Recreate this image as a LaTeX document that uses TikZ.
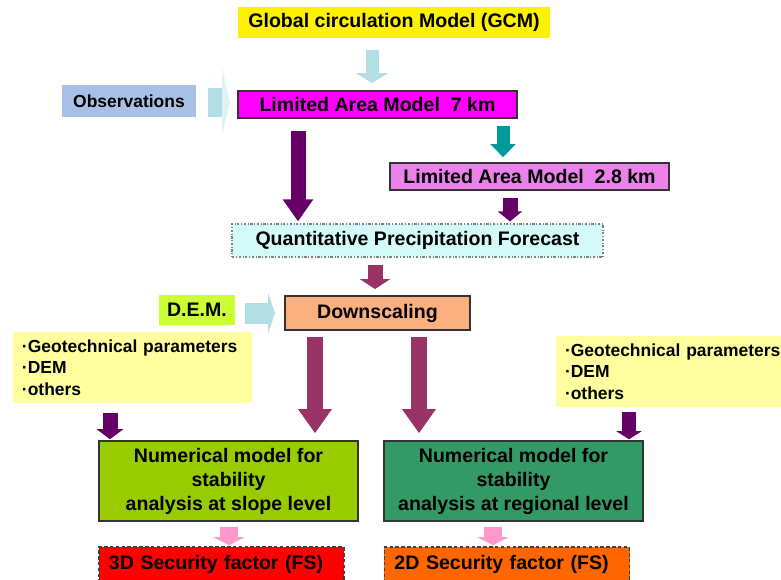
\documentclass[tikz,border=0pt]{standalone}
\usepackage{fontspec}
\setmainfont{Liberation Sans}
\usetikzlibrary{arrows.meta}

\definecolor{obsblue}{RGB}{168,192,230}
\definecolor{lightcyan}{RGB}{178,222,228}
\definecolor{lammagenta}{RGB}{255,0,255}
\definecolor{violetbox}{RGB}{235,130,235}
\definecolor{qpfcyan}{RGB}{212,250,250}
\definecolor{demlime}{RGB}{204,255,51}
\definecolor{salmon}{RGB}{252,176,128}
\definecolor{noteyellow}{RGB}{255,255,160}
\definecolor{slopegreen}{RGB}{153,204,0}
\definecolor{regiongreen}{RGB}{51,153,102}
\definecolor{pinkarrow}{RGB}{255,153,204}
\definecolor{darkpurple}{RGB}{102,0,102}
\definecolor{maroon}{RGB}{153,51,102}
\definecolor{tealarrow}{RGB}{0,153,153}
\definecolor{fsorange}{RGB}{255,102,0}

\begin{document}
\begin{tikzpicture}[x=0.03cm, y=-0.03cm, font=\bfseries\fontsize{16.7}{20.5}\selectfont,
  box/.style={inner sep=0pt, align=center, text=black},
  frame/.style={box, draw=black!80, line width=1.6pt},
  note/.style={box, fill=noteyellow, align=left, inner xsep=0.27cm, text width=6.63cm, minimum height=2.13cm, font=\bfseries\fontsize{14.9}{18.4}\selectfont},
  fs/.style={box, draw=black!75, line width=1.4pt, dash pattern=on 3pt off 2pt, align=left, inner xsep=0.3cm, text width=6.75cm, minimum height=1.02cm},
  fat/.style n args={4}{draw=#1, line width=#2, -{Triangle[width=#3, length=#4]}}]

  \fill[white] (0,0) rectangle (781,579);
  \useasboundingbox (0,0) rectangle (781,579);

  \node[box, fill=yellow, minimum width=9.36cm, minimum height=0.93cm] (gcm) at (394,22.5) {Global circulation Model (GCM)};
  \node[box, fill=obsblue, minimum width=4.02cm, minimum height=0.96cm, font=\bfseries\fontsize{14.9}{18}\selectfont] (obs) at (129,101) {Observations};
  \node[frame, fill=lammagenta, minimum width=8.37cm, minimum height=0.81cm] (lam7) at (377.5,104.5) {Limited Area Model~~7 km};
  \node[frame, fill=violetbox, minimum width=8.37cm, minimum height=0.81cm] (lam28) at (529.5,176.5) {Limited Area Model~~2.8 km};
  \node[box, fill=qpfcyan, draw=gray, line width=1pt, dash pattern=on 2pt off 1.5pt on 0.6pt off 1.5pt, minimum width=11.13cm, minimum height=0.99cm] (qpf) at (417.5,240.5) {Quantitative Precipitation Forecast};
  \node[box, fill=demlime, minimum width=2.28cm, minimum height=0.9cm] (dem) at (197,310) {D.E.M.};
  \node[frame, fill=salmon, minimum width=5.55cm, minimum height=1.02cm] (down) at (377.5,313) {Downscaling};
  \node[note] (par0) at (132.5,367.5) {·Geotechnical parameters\\·DEM\\·others};
  \node[note] (par1) at (675.5,371.5) {·Geotechnical parameters\\·DEM\\·others};
  \node[frame, fill=slopegreen, line width=1.3pt, minimum width=7.77cm, minimum height=2.4cm] (num0) at (228.5,481) {Numerical model for\\stability\\analysis at slope level};
  \node[frame, fill=regiongreen, line width=1.3pt, minimum width=7.77cm, minimum height=2.4cm] (num1) at (513.5,481) {Numerical model for\\stability\\analysis at regional level};
  \node[fs, fill=red] (fs0) at (221.5,564) {3D Security factor (FS)};
  \node[fs, fill=fsorange] (fs1) at (507,564) {2D Security factor (FS)};

  \path (gcm.south -| 372,0) edge[fat={lightcyan}{.39cm}{.96cm}{.3cm}, shorten <=.36cm, shorten >=.21cm] (lam7.north -| 372,0);
  \path (obs.east |- 0,102) edge[draw=lightcyan, line width=.87cm, -{Triangle[width=2.01cm, length=.24cm, color=lightcyan!40]}, shorten <=.36cm, shorten >=.21cm] (lam7.west |- 0,102);
  \path (lam7.south -| 298,0) edge[fat={darkpurple}{.45cm}{.87cm}{.66cm}, shorten <=.36cm, shorten >=.06cm] (qpf.north -| 298,0);
  \path (lam7.south -| 503,0) edge[fat={tealarrow}{.39cm}{.75cm}{.39cm}, shorten <=.21cm, shorten >=.15cm] (lam28.north -| 503,0);
  \path (lam28.south -| 510,0) edge[fat={darkpurple}{.45cm}{.72cm}{.3cm}, shorten <=.21cm, shorten >=.06cm] (qpf.north -| 510,0);
  \path (qpf.south -| 375,0) edge[fat={maroon}{.45cm}{.9cm}{.3cm}, shorten <=.21cm, shorten >=.18cm] (down.north -| 375,0);
  \path (dem.east |- 0,313) edge[fat={lightcyan}{.63cm}{1.2cm}{.21cm}, shorten <=.3cm, shorten >=.27cm] (down.west |- 0,313);
  \path (down.south -| 315,0) edge[fat={maroon}{.48cm}{.96cm}{.72cm}, shorten <=.18cm, shorten >=.21cm] (num0.north -| 315,0);
  \path (down.south -| 419,0) edge[fat={maroon}{.48cm}{.96cm}{.72cm}, shorten <=.18cm, shorten >=.21cm] (num1.north -| 419,0);
  \path (par0.south -| 110,0) edge[fat={darkpurple}{.45cm}{.78cm}{.3cm}, shorten <=.3cm, shorten >=.03cm] (num0.north -| 110,0);
  \path (par1.south -| 629,0) edge[fat={darkpurple}{.42cm}{.75cm}{.24cm}, shorten <=.15cm, shorten >=.03cm] (num1.north -| 629,0);
  \path (num0.south -| 229,0) edge[fat={pinkarrow}{.54cm}{.93cm}{.24cm}, shorten <=.15cm, shorten >=.03cm] (fs0.north -| 229,0);
  \path (num1.south -| 493,0) edge[fat={pinkarrow}{.54cm}{.93cm}{.24cm}, shorten <=.15cm, shorten >=.03cm] (fs1.north -| 493,0);
\end{tikzpicture}
\end{document}
